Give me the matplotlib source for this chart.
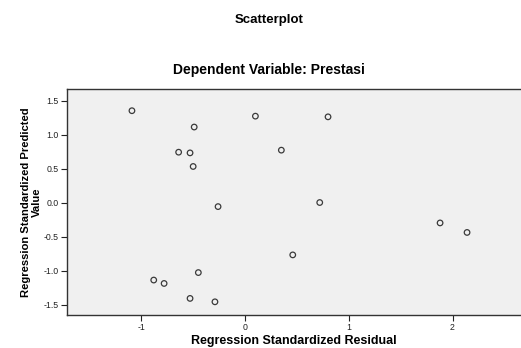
import matplotlib.pyplot as plt
import numpy as np

# standardized residuals vs standardized predicted values
resid = np.array([-1.09, 0.10, -0.49, 0.35, -0.64, -0.53, -0.50, -0.26, 0.46,
                  -0.45, -0.88, -0.78, -0.53, -0.29, 0.80, 0.72, 1.88, 2.14])
pred = np.array([1.35, 1.27, 1.11, 0.77, 0.74, 0.73, 0.53, -0.06, -0.77,
                 -1.03, -1.14, -1.19, -1.41, -1.46, 1.26, 0.00, -0.30, -0.44])

xticks = [-1, 0, 1, 2]
yticks = [-1.5, -1.0, -0.5, 0.0, 0.5, 1.0, 1.5]

plt.rcParams['font.family'] = ['Liberation Sans', 'DejaVu Sans']

fig = plt.figure(figsize=(5.21, 3.48), dpi=100)
ax = fig.add_axes([0.1286, 0.0948, 0.8714, 0.6494])
ax.set_facecolor('#f0f0f0')

ax.scatter(resid, pred, s=16, facecolors='none', edgecolors='#3a3a3a', linewidths=0.9)

ax.set_xlim(-1.716, 2.66)
ax.set_ylim(-1.654, 1.669)
ax.set_xticks(xticks)
ax.set_xticklabels([str(t) for t in xticks])
ax.set_yticks(yticks)
ax.set_yticklabels(['%.1f' % t for t in yticks])
ax.tick_params(direction='out', length=4, width=0.8, labelsize=6.3, colors='#222222', pad=2)

for s in ['left', 'bottom', 'top']:
    ax.spines[s].set_color('#333333')
    ax.spines[s].set_linewidth(1.0)
ax.spines['right'].set_visible(False)

ax.set_xlabel('Regression Standardized Residual', fontsize=9, fontweight='bold', labelpad=2)
ax.set_ylabel('Regression Standardized Predicted\nValue', fontsize=8.1, fontweight='bold',
              labelpad=1, linespacing=1.1)

fig.text(0.516, 1 - 20 / 348, 'Scatterplot', ha='center', va='center',
         fontsize=9.5, fontweight='bold')
fig.text(0.516, 1 - 70 / 348, 'Dependent Variable: Prestasi', ha='center', va='center',
         fontsize=10, fontweight='bold')

plt.savefig('out.png', dpi=100)
